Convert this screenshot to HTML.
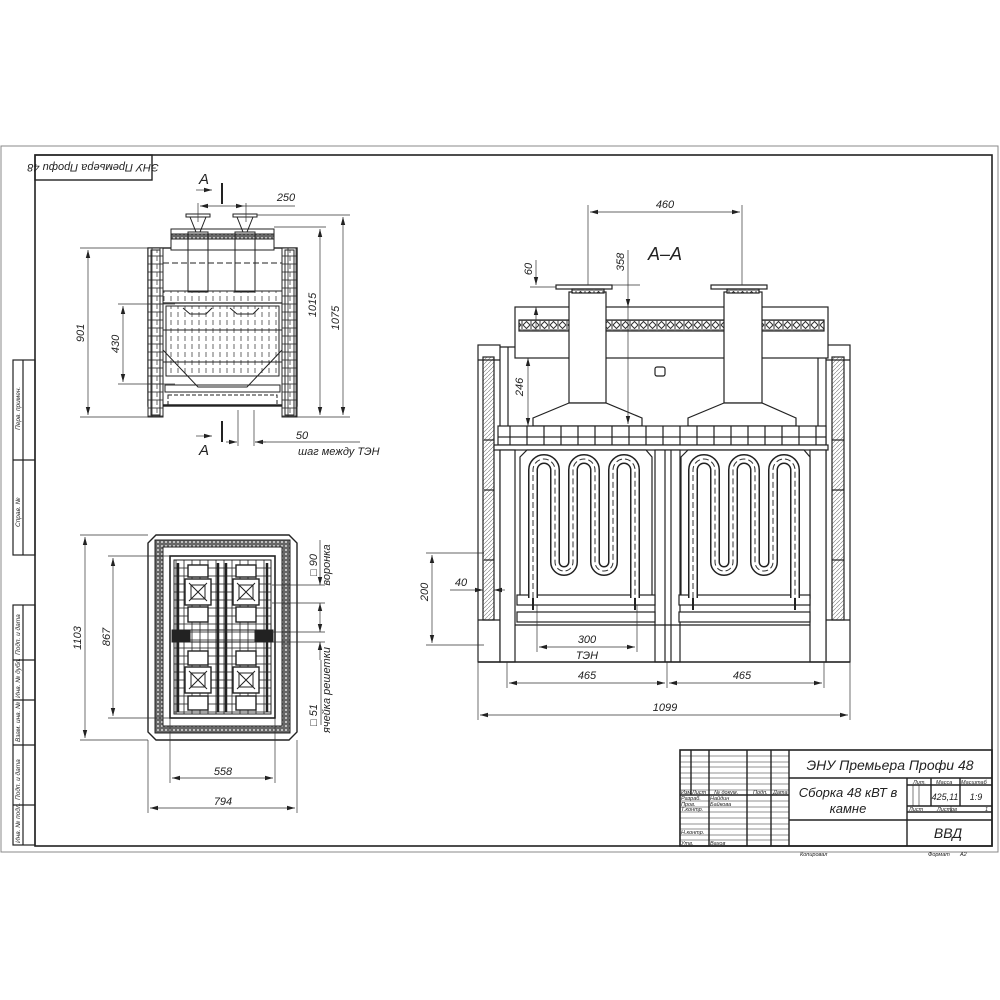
<!DOCTYPE html>
<html><head><meta charset="utf-8"><style>
html,body{margin:0;padding:0;background:#fff}
svg{display:block}
text{font-family:"Liberation Sans","DejaVu Sans",sans-serif;font-style:italic;fill:#222}
</style></head><body>
<svg width="1000" height="1000" viewBox="0 0 1000 1000" xmlns="http://www.w3.org/2000/svg">
<defs>
<pattern id="hat" width="4" height="4" patternUnits="userSpaceOnUse"><rect width="4" height="4" fill="#fff"/><path d="M0 4L4 0" stroke="#777" stroke-width="0.6"/></pattern>
<pattern id="orn" width="9" height="10" patternUnits="userSpaceOnUse"><rect width="9" height="10" fill="#fff"/><path d="M1 5L4.5 1.5L8 5L4.5 8.5Z" fill="none" stroke="#333" stroke-width="1"/><rect x="0.5" y="0.5" width="8" height="9" fill="none" stroke="#555" stroke-width="0.6"/></pattern>
<pattern id="dots" width="4" height="4" patternUnits="userSpaceOnUse"><rect width="4" height="4" fill="#666"/><circle cx="2" cy="2" r="1" fill="#ddd"/></pattern>
<pattern id="blk" width="17" height="19" patternUnits="userSpaceOnUse"><rect width="17" height="19" fill="#fff" stroke="#222" stroke-width="1.2"/></pattern>
<pattern id="vdash" width="7" height="8" patternUnits="userSpaceOnUse"><path d="M3 0V5" stroke="#444" stroke-width="0.8"/></pattern>
<pattern id="cell" width="8" height="8" patternUnits="userSpaceOnUse"><rect width="8" height="8" fill="#fff" stroke="#222" stroke-width="0.8"/></pattern>
<marker id="ar" markerWidth="8" markerHeight="6" refX="8" refY="3" orient="auto-start-reverse" markerUnits="userSpaceOnUse"><path d="M0 0.8L8 3L0 5.2Z" fill="#222"/></marker>
</defs>

<!-- frames -->
<rect x="1" y="146" width="997" height="706" fill="none" stroke="#888" stroke-width="1"/>
<rect x="35" y="155" width="957" height="691" fill="none" stroke="#222" stroke-width="1.6"/>
<rect x="35" y="155" width="117" height="25" fill="none" stroke="#222" stroke-width="1.4"/>
<text x="93" y="168" font-size="11" text-anchor="middle" transform="rotate(180 93 166)">ЭНУ Премьера Профи 48</text>

<!-- left stamp column -->
<g stroke="#222" stroke-width="1.2" fill="none">
<rect x="13" y="360" width="22" height="195"/><line x1="23" y1="360" x2="23" y2="555"/><line x1="13" y1="460" x2="35" y2="460"/>
<rect x="13" y="605" width="22" height="240"/><line x1="23" y1="605" x2="23" y2="845"/>
<line x1="13" y1="660" x2="35" y2="660"/><line x1="13" y1="700" x2="35" y2="700"/><line x1="13" y1="745" x2="35" y2="745"/><line x1="13" y1="805" x2="35" y2="805"/>
</g>
<g font-size="6.5">
<text transform="translate(20,430) rotate(-90)">Перв. примен.</text>
<text transform="translate(20,527) rotate(-90)">Справ. №</text>
<text transform="translate(20,655) rotate(-90)">Подп. и дата</text>
<text transform="translate(20,698) rotate(-90)">Инв. № дубл.</text>
<text transform="translate(20,742) rotate(-90)">Взам. инв. №</text>
<text transform="translate(20,800) rotate(-90)">Подп. и дата</text>
<text transform="translate(20,843) rotate(-90)">Инв. № подл.</text>
</g>

<!-- ============ FRONT VIEW (top left) ============ -->
<g stroke="#222" fill="none" stroke-width="1">
<rect x="148" y="248" width="149" height="158" stroke-width="1.4"/>
<rect x="148" y="248" width="15" height="169" fill="url(#cell)"/>
<rect x="282" y="248" width="15" height="169" fill="url(#cell)"/>
<rect x="151" y="250" width="9" height="165" fill="url(#vdash)"/>
<rect x="285" y="250" width="9" height="165" fill="url(#vdash)"/>
<rect x="171" y="229" width="103" height="21" fill="#fff"/>
<rect x="171" y="234" width="103" height="5" fill="url(#dots)"/>
<rect x="186" y="214" width="24" height="3" fill="#fff"/><rect x="233" y="214" width="24" height="3" fill="#fff"/>
<path d="M190 217L196 232L200 232L206 217M237 217L243 232L247 232L253 217"/>
<rect x="188" y="232" width="20" height="60"/><rect x="235" y="232" width="20" height="60"/>
<line x1="163" y1="291" x2="282" y2="291"/>
<rect x="163" y="291" width="119" height="12" fill="url(#vdash)"/>
<line x1="163" y1="303" x2="282" y2="303" stroke-width="1.2"/>
<rect x="166" y="306" width="113" height="70" fill="url(#vdash)"/>
<line x1="163" y1="330" x2="282" y2="330"/><line x1="163" y1="362" x2="282" y2="362"/>
<path d="M163 350L198 387L247 387L282 350"/>
<rect x="165" y="385" width="115" height="7"/>
<rect x="168" y="395" width="109" height="10" stroke-dasharray="4 2"/>
<line x1="163" y1="405" x2="282" y2="405" stroke-width="1.4"/>
<path d="M183 308L190 314L206 314L212 308M230 308L237 314L253 314L259 308"/>
<line x1="163" y1="263" x2="282" y2="263" stroke-dasharray="6 3"/>
</g>
<!-- front dims -->
<g stroke="#333" stroke-width="0.7" fill="none">
<line x1="80" y1="248" x2="148" y2="248"/><line x1="80" y1="417" x2="148" y2="417"/>
<line x1="88" y1="250" x2="88" y2="415" marker-start="url(#ar)" marker-end="url(#ar)"/>
<line x1="118" y1="304" x2="175" y2="304"/><line x1="118" y1="384" x2="175" y2="384"/>
<line x1="123" y1="306" x2="123" y2="382" marker-start="url(#ar)" marker-end="url(#ar)"/>
<line x1="274" y1="227" x2="326" y2="227"/><line x1="297" y1="417" x2="350" y2="417"/>
<line x1="320" y1="229" x2="320" y2="415" marker-start="url(#ar)" marker-end="url(#ar)"/>
<line x1="257" y1="215" x2="350" y2="215"/>
<line x1="343" y1="217" x2="343" y2="415" marker-start="url(#ar)" marker-end="url(#ar)"/>
<line x1="198" y1="203" x2="198" y2="222"/><line x1="246" y1="203" x2="246" y2="222"/>
<line x1="200" y1="206" x2="244" y2="206" marker-start="url(#ar)" marker-end="url(#ar)"/>
<line x1="244" y1="206" x2="295" y2="206"/>
<line x1="238" y1="410" x2="238" y2="446"/><line x1="254" y1="410" x2="254" y2="446"/>
<line x1="226" y1="442" x2="237" y2="442" marker-end="url(#ar)"/><line x1="266" y1="442" x2="255" y2="442" marker-end="url(#ar)"/>
<line x1="255" y1="442" x2="360" y2="442"/>
<line x1="196" y1="190" x2="212" y2="190" marker-end="url(#ar)"/><line x1="196" y1="436" x2="212" y2="436" marker-end="url(#ar)"/>
</g>
<line x1="222" y1="183" x2="222" y2="204" stroke="#222" stroke-width="2"/>
<line x1="222" y1="421" x2="222" y2="442" stroke="#222" stroke-width="2"/>
<g font-size="11">
<text x="204" y="184" font-size="15" text-anchor="middle" font-style="normal">A</text>
<text x="204" y="455" font-size="15" text-anchor="middle" font-style="normal">A</text>
<text x="286" y="201" text-anchor="middle">250</text>
<text transform="translate(84,333) rotate(-90)" text-anchor="middle">901</text>
<text transform="translate(119,344) rotate(-90)" text-anchor="middle">430</text>
<text transform="translate(316,305) rotate(-90)" text-anchor="middle">1015</text>
<text transform="translate(339,318) rotate(-90)" text-anchor="middle">1075</text>
<text x="302" y="439" text-anchor="middle">50</text>
<text x="298" y="455">шаг между ТЭН</text>
</g>

<!-- ============ PLAN VIEW ============ -->
<g stroke="#222" fill="none" stroke-width="1">
<path d="M156 535H289L297 543V732L289 740H156L148 732V543Z" stroke-width="1.4"/>
<path d="M155 540H290V733H155Z" fill="url(#dots)"/>
<rect x="163" y="547" width="119" height="179" fill="#fff"/>
<rect x="170" y="556" width="105" height="162" stroke-width="1.6"/>
<rect x="174" y="560" width="97" height="154" fill="url(#cell)" stroke-width="1"/>
<rect x="172" y="630" width="101" height="12" fill="#222"/>
<rect x="190" y="630" width="65" height="12" fill="url(#cell)"/>
<g fill="#fff" stroke-width="1.4">
<rect x="185" y="579" width="26" height="26"/><rect x="233" y="579" width="26" height="26"/>
<rect x="185" y="667" width="26" height="26"/><rect x="233" y="667" width="26" height="26"/>
<rect x="188" y="565" width="20" height="12"/><rect x="236" y="565" width="20" height="12"/>
<rect x="188" y="607" width="20" height="15"/><rect x="236" y="607" width="20" height="15"/>
<rect x="188" y="651" width="20" height="14"/><rect x="236" y="651" width="20" height="14"/>
<rect x="188" y="696" width="20" height="14"/><rect x="236" y="696" width="20" height="14"/>
</g>
<path d="M189 583L207 601M207 583L189 601M237 583L255 601M255 583L237 601M189 671L207 689M207 671L189 689M237 671L255 689M255 671L237 689"/>
<rect x="191" y="585" width="14" height="14"/><rect x="239" y="585" width="14" height="14"/><rect x="191" y="673" width="14" height="14"/><rect x="239" y="673" width="14" height="14"/>
<g stroke-width="2.5"><line x1="178" y1="563" x2="178" y2="712"/><line x1="218" y1="563" x2="218" y2="712"/><line x1="226" y1="563" x2="226" y2="712"/><line x1="267" y1="563" x2="267" y2="712"/></g>
</g>
<g stroke="#333" stroke-width="0.7" fill="none">
<line x1="80" y1="535" x2="148" y2="535"/><line x1="80" y1="740" x2="148" y2="740"/>
<line x1="85" y1="537" x2="85" y2="738" marker-start="url(#ar)" marker-end="url(#ar)"/>
<line x1="108" y1="556" x2="170" y2="556"/><line x1="108" y1="718" x2="170" y2="718"/>
<line x1="113" y1="558" x2="113" y2="716" marker-start="url(#ar)" marker-end="url(#ar)"/>
<line x1="170" y1="718" x2="170" y2="783"/><line x1="275" y1="718" x2="275" y2="783"/>
<line x1="172" y1="778" x2="273" y2="778" marker-start="url(#ar)" marker-end="url(#ar)"/>
<line x1="148" y1="740" x2="148" y2="813"/><line x1="297" y1="740" x2="297" y2="813"/>
<line x1="150" y1="808" x2="295" y2="808" marker-start="url(#ar)" marker-end="url(#ar)"/>
<line x1="272" y1="585" x2="325" y2="585"/><line x1="272" y1="603" x2="325" y2="603"/>
<line x1="272" y1="632" x2="325" y2="632"/><line x1="272" y1="642" x2="325" y2="642"/>
<line x1="320" y1="540" x2="320" y2="585" marker-end="url(#ar)"/><line x1="320" y1="620" x2="320" y2="603" marker-end="url(#ar)"/>
<line x1="320" y1="620" x2="320" y2="632" marker-end="url(#ar)"/><line x1="320" y1="660" x2="320" y2="642" marker-end="url(#ar)"/>
<line x1="321" y1="660" x2="321" y2="725"/>
</g>
<g font-size="11">
<text x="223" y="775" text-anchor="middle">558</text>
<text x="223" y="805" text-anchor="middle">794</text>
<text transform="translate(81,638) rotate(-90)" text-anchor="middle">1103</text>
<text transform="translate(110,637) rotate(-90)" text-anchor="middle">867</text>
<text transform="translate(317,565) rotate(-90)" text-anchor="middle">□ 90</text>
<text transform="translate(330,565) rotate(-90)" text-anchor="middle">воронка</text>
<text transform="translate(317,715) rotate(-90)" text-anchor="middle">□ 51</text>
<text transform="translate(330,690) rotate(-90)" text-anchor="middle">ячейка решетки</text>
</g>

<!-- ============ SECTION A-A ============ -->
<g stroke="#222" fill="none" stroke-width="1.2">
<!-- walls -->
<rect x="478" y="345" width="22" height="317" fill="#fff"/>
<rect x="483" y="357" width="11" height="263" fill="url(#hat)"/>
<line x1="478" y1="360" x2="500" y2="360"/><line x1="478" y1="620" x2="500" y2="620"/>
<rect x="826" y="345" width="24" height="317" fill="#fff"/>
<rect x="832" y="357" width="12" height="263" fill="url(#hat)"/>
<line x1="826" y1="360" x2="850" y2="360"/><line x1="826" y1="620" x2="850" y2="620"/>
<line x1="484" y1="440" x2="494" y2="440"/><line x1="484" y1="490" x2="494" y2="490"/><line x1="484" y1="560" x2="494" y2="560"/>
<line x1="832" y1="440" x2="844" y2="440"/><line x1="832" y1="490" x2="844" y2="490"/><line x1="832" y1="560" x2="844" y2="560"/>
<path d="M500 347H515M810 347H826"/>
<line x1="508" y1="347" x2="508" y2="660"/><line x1="818" y1="347" x2="818" y2="660"/>
<!-- hood box -->
<rect x="515" y="307" width="313" height="51" fill="#fff"/>
<rect x="519" y="320" width="305" height="11" fill="url(#orn)"/>
<!-- chimneys -->
<rect x="569" y="292" width="37" height="111" fill="#fff"/>
<rect x="724" y="292" width="38" height="111" fill="#fff"/>
<rect x="556" y="285" width="56" height="4" fill="#fff"/><rect x="711" y="285" width="56" height="4" fill="#fff"/>
<rect x="572" y="289" width="32" height="4" fill="url(#orn)"/><rect x="727" y="289" width="32" height="4" fill="url(#orn)"/>
<path d="M569 403L533 418V426H642V418L606 403Z" fill="#fff"/>
<path d="M724 403L688 418V426H796V418L762 403Z" fill="#fff"/>
<rect x="655" y="367" width="10" height="9" rx="2"/>
<!-- grate -->
<rect x="498" y="426" width="328" height="19" fill="url(#blk)"/>
<rect x="494" y="445" width="334" height="5" fill="#fff"/>
<!-- posts -->
<rect x="500" y="450" width="15" height="212" fill="#fff"/>
<rect x="655" y="450" width="25" height="212" fill="#fff"/>
<rect x="810" y="450" width="16" height="212" fill="#fff"/>
<line x1="665" y1="450" x2="665" y2="662"/><line x1="671" y1="450" x2="671" y2="662"/>
<!-- basket frames -->
<path d="M520 457L527 450H646L652 457V598H520Z" fill="#fff"/>
<path d="M681 457L688 450H804L810 457V598H681Z" fill="#fff"/>
<rect x="517" y="595" width="138" height="10" fill="#fff"/>
<rect x="679" y="595" width="131" height="10" fill="#fff"/>
<rect x="517" y="612" width="138" height="10" fill="#fff"/>
<rect x="679" y="612" width="131" height="10" fill="#fff"/>
<line x1="515" y1="625" x2="810" y2="625"/>
<line x1="478" y1="662" x2="850" y2="662" stroke-width="1.4"/>
</g>
<!-- serpentines -->
<g fill="none" stroke-linecap="butt">
<g id="sp">
<path d="M533 598V470A11 11 0 0 1 555 470V562A9 9 0 0 0 573 562V470A11 11 0 0 1 595 470V562A9 9 0 0 0 613 562V470A11 11 0 0 1 635 470V598" stroke="#222" stroke-width="10"/>
<path d="M533 598V470A11 11 0 0 1 555 470V562A9 9 0 0 0 573 562V470A11 11 0 0 1 595 470V562A9 9 0 0 0 613 562V470A11 11 0 0 1 635 470V598" stroke="#fff" stroke-width="7"/>
<path d="M533 598V470A11 11 0 0 1 555 470V562A9 9 0 0 0 573 562V470A11 11 0 0 1 595 470V562A9 9 0 0 0 613 562V470A11 11 0 0 1 635 470V598" stroke="#333" stroke-width="1" stroke-dasharray="6 3"/>
</g>
<use href="#sp" transform="translate(160 0)"/>
</g>
<g stroke="#222" stroke-width="2"><path d="M533 598V610M635 598V610M693 598V610M795 598V610"/></g>

<!-- A-A dims -->
<g stroke="#333" stroke-width="0.7" fill="none">
<line x1="588" y1="205" x2="588" y2="285"/><line x1="742" y1="205" x2="742" y2="285"/>
<line x1="590" y1="212" x2="740" y2="212" marker-start="url(#ar)" marker-end="url(#ar)"/>
<line x1="612" y1="285" x2="640" y2="285"/>
<line x1="628" y1="250" x2="628" y2="307" marker-end="url(#ar)"/>
<line x1="628" y1="307" x2="628" y2="424" marker-end="url(#ar)"/>
<line x1="536" y1="260" x2="536" y2="285" marker-end="url(#ar)"/><line x1="536" y1="330" x2="536" y2="307" marker-end="url(#ar)"/>
<line x1="530" y1="287" x2="556" y2="287"/>
<line x1="528" y1="358" x2="528" y2="426" marker-start="url(#ar)" marker-end="url(#ar)"/>
<line x1="426" y1="553" x2="484" y2="553"/><line x1="426" y1="645" x2="484" y2="645"/>
<line x1="432" y1="555" x2="432" y2="643" marker-start="url(#ar)" marker-end="url(#ar)"/>
<line x1="450" y1="590" x2="483" y2="590" marker-end="url(#ar)"/><line x1="505" y1="590" x2="494" y2="590" marker-end="url(#ar)"/>
<line x1="537" y1="605" x2="537" y2="652"/><line x1="637" y1="605" x2="637" y2="652"/>
<line x1="539" y1="647" x2="635" y2="647" marker-start="url(#ar)" marker-end="url(#ar)"/>
<line x1="507" y1="662" x2="507" y2="688"/><line x1="667" y1="662" x2="667" y2="688"/><line x1="824" y1="662" x2="824" y2="688"/>
<line x1="509" y1="683" x2="665" y2="683" marker-start="url(#ar)" marker-end="url(#ar)"/>
<line x1="669" y1="683" x2="822" y2="683" marker-start="url(#ar)" marker-end="url(#ar)"/>
<line x1="478" y1="662" x2="478" y2="720"/><line x1="850" y1="662" x2="850" y2="720"/>
<line x1="480" y1="715" x2="848" y2="715" marker-start="url(#ar)" marker-end="url(#ar)"/>
</g>
<g font-size="11">
<text x="665" y="208" text-anchor="middle">460</text>
<text x="665" y="260" font-size="18" text-anchor="middle" font-style="normal">А–А</text>
<text transform="translate(624,262) rotate(-90)" text-anchor="middle">358</text>
<text transform="translate(532,269) rotate(-90)" text-anchor="middle">60</text>
<text transform="translate(523,387) rotate(-90)" text-anchor="middle">246</text>
<text transform="translate(428,592) rotate(-90)" text-anchor="middle">200</text>
<text x="461" y="586" text-anchor="middle">40</text>
<text x="587" y="643" text-anchor="middle">300</text>
<text x="587" y="659" text-anchor="middle">ТЭН</text>
<text x="587" y="679" text-anchor="middle">465</text>
<text x="742" y="679" text-anchor="middle">465</text>
<text x="665" y="711" text-anchor="middle">1099</text>
</g>

<!-- ============ TITLE BLOCK ============ -->
<g stroke="#222" fill="none">
<rect x="680" y="750" width="312" height="96" stroke-width="1.6"/>
<g stroke-width="1.4">
<line x1="691" y1="750" x2="691" y2="795"/><line x1="709" y1="750" x2="709" y2="846"/><line x1="747" y1="750" x2="747" y2="846"/><line x1="771" y1="750" x2="771" y2="846"/><line x1="789" y1="750" x2="789" y2="846"/>
<line x1="789" y1="778" x2="992" y2="778"/><line x1="789" y1="820" x2="992" y2="820"/>
<line x1="907" y1="778" x2="907" y2="846"/><line x1="907" y1="785" x2="992" y2="785"/><line x1="907" y1="806" x2="992" y2="806"/><line x1="907" y1="812" x2="992" y2="812"/>
<line x1="931" y1="778" x2="931" y2="806"/><line x1="960" y1="778" x2="960" y2="806"/>
<line x1="680" y1="795" x2="789" y2="795"/>
</g>
<g stroke-width="0.6">
<line x1="680" y1="756" x2="789" y2="756"/><line x1="680" y1="762" x2="789" y2="762"/><line x1="680" y1="767" x2="789" y2="767"/><line x1="680" y1="773" x2="789" y2="773"/><line x1="680" y1="778" x2="789" y2="778"/><line x1="680" y1="784" x2="789" y2="784"/><line x1="680" y1="790" x2="789" y2="790"/>
<line x1="680" y1="801" x2="789" y2="801"/><line x1="680" y1="807" x2="789" y2="807"/><line x1="680" y1="812" x2="789" y2="812"/><line x1="680" y1="818" x2="789" y2="818"/><line x1="680" y1="824" x2="789" y2="824"/><line x1="680" y1="829" x2="789" y2="829"/><line x1="680" y1="835" x2="789" y2="835"/><line x1="680" y1="840" x2="789" y2="840"/>
<line x1="913" y1="785" x2="913" y2="806"/><line x1="919" y1="785" x2="919" y2="806"/><line x1="951" y1="806" x2="951" y2="812"/>
</g>
</g>
<g font-size="5.5">
<text x="681" y="794">Изм</text><text x="692" y="794">Лист</text><text x="714" y="794">№ докум.</text><text x="753" y="794">Подп.</text><text x="773" y="794">Дата</text>
<text x="681" y="800">Разраб.</text><text x="710" y="800">Найдин</text>
<text x="681" y="806">Пров.</text><text x="710" y="806">Байкова</text>
<text x="681" y="811">Т.контр.</text>
<text x="681" y="834">Н.контр.</text>
<text x="681" y="845">Утв.</text><text x="710" y="845">Вахов</text>
<text x="913" y="784">Лит.</text><text x="936" y="784">Масса</text><text x="961" y="784">Масштаб</text>
<text x="909" y="811">Лист</text><text x="937" y="811">Листов</text><text x="985" y="811">1</text>
<text x="800" y="856">Копировал</text><text x="928" y="856">Формат</text><text x="960" y="856">A2</text>
</g>
<text x="890" y="770" font-size="14" text-anchor="middle">ЭНУ Премьера Профи 48</text>
<text x="848" y="797" font-size="13" text-anchor="middle">Сборка 48 кВТ в</text>
<text x="848" y="813" font-size="13" text-anchor="middle">камне</text>
<text x="945" y="800" font-size="9" text-anchor="middle">425,11</text>
<text x="976" y="800" font-size="9" text-anchor="middle">1:9</text>
<text x="948" y="838" font-size="14" text-anchor="middle">ВВД</text>
</svg>
</body></html>
